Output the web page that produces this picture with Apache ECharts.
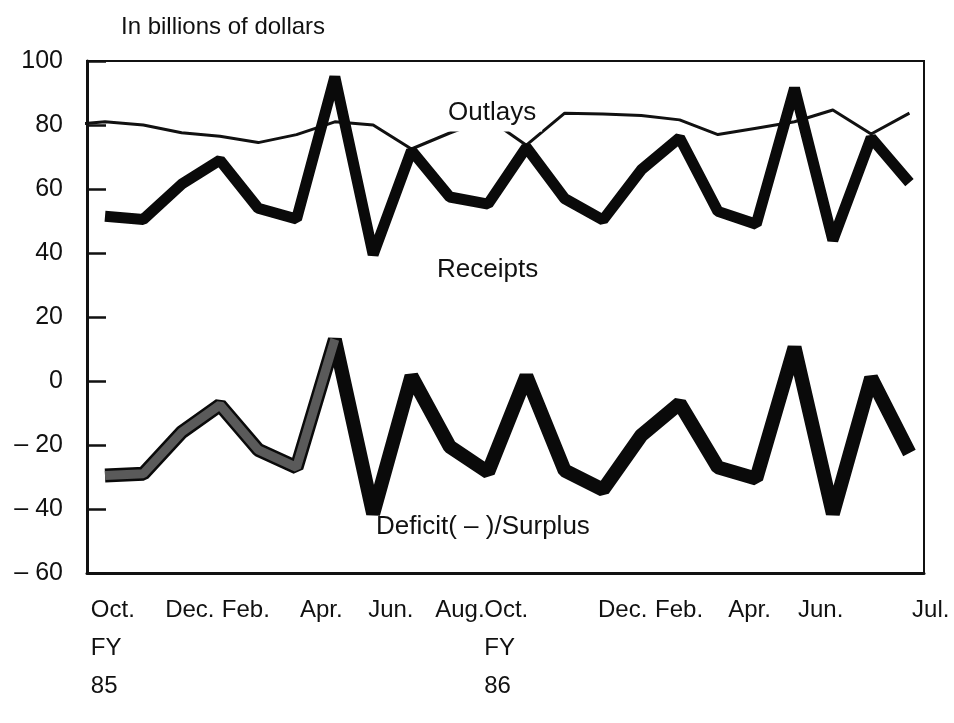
<!DOCTYPE html>
<html>
<head>
<meta charset="utf-8">
<script src="https://cdn.jsdelivr.net/npm/echarts@6/dist/echarts.min.js"></script>
<style>
  html, body { margin: 0; padding: 0; background: #ffffff; }
  #chart { width: 954px; height: 723px; }
</style>
</head>
<body>
<div id="chart"></div>
<script>
// Monthly federal budget totals, billions of dollars (Sep. 1984 – Jul. 1986)
const months = [
  'Sep. 84', 'Oct. 84', 'Nov. 84', 'Dec. 84', 'Jan. 85', 'Feb. 85', 'Mar. 85',
  'Apr. 85', 'May 85', 'Jun. 85', 'Jul. 85', 'Aug. 85', 'Sep. 85', 'Oct. 85',
  'Nov. 85', 'Dec. 85', 'Jan. 86', 'Feb. 86', 'Mar. 86', 'Apr. 86', 'May 86',
  'Jun. 86', 'Jul. 86'
];
const outlays  = [80, 81, 80, 77.6, 76.5, 74.5, 77, 81, 80, 72.5, 77.5, 82, 73.7,
                  83.7, 83.4, 83, 81.6, 77, 79, 81, 84.7, 77.2, 83.7];
const receipts = [null, 51.5, 50.5, 61.5, 69, 54, 50.6, 95, 39.5, 72, 57.5, 55.3, 73,
                  57, 50.3, 66, 76, 53, 49, 91.5, 44, 76, 62];
const deficit  = [null, -29.5, -29, -16, -7.5, -21.5, -27, 13, -41.5, 1.5, -20.5, -28.5, 1.5,
                  -28, -34, -17, -7, -27, -30.5, 10.5, -41.5, 1, -22.5];

// Category labels under the time axis
const tickLabels = ['Oct.\nFY\n85', 'Dec.', 'Feb.', 'Apr.', 'Jun.', 'Aug.', 'Oct.\nFY\n86',
                    'Dec.', 'Feb.', 'Apr.', 'Jun.', 'Jul.'];
// Where each label's left edge sits, in month-index units
const tickAnchors = [0.63, 2.57, 4.05, 6.09, 7.87, 9.62, 10.9, 13.87, 15.36, 17.27, 19.09, 22.07];

const yTicks = { min: -60, max: 100, step: 20 };
const FONT = '"Liberation Sans", Arial, Helvetica, sans-serif';

const pairs = arr => arr.map((v, i) => [i, v]);
// Early months of the balance line are printed in a lighter screen
const deficitEarly = pairs(deficit).slice(0, 8);

const chart = echarts.init(document.getElementById('chart'), null, { renderer: 'canvas' });

chart.setOption({
  animation: false,
  backgroundColor: '#ffffff',
  grid: {
    left: 87, right: 30, top: 61, bottom: 150,
    show: true, borderColor: '#111', borderWidth: 2, backgroundColor: 'transparent'
  },
  xAxis: [
    {
      type: 'value', min: 0.53, max: 22.38,
      axisLine: { show: true, onZero: false, lineStyle: { color: '#111', width: 3 } },
      axisTick: { show: false }, axisLabel: { show: false }, splitLine: { show: false }
    },
    {
      type: 'value', min: 0.53, max: 22.38, position: 'bottom',
      axisLine: { show: false }, axisTick: { show: false }, splitLine: { show: false },
      axisLabel: {
        show: true,
        customValues: tickAnchors,
        formatter: v => {
          const k = tickAnchors.findIndex(a => Math.abs(a - v) < 1e-6);
          return k >= 0 ? tickLabels[k] : '';
        },
        align: 'left', verticalAlign: 'top',
        margin: 18, lineHeight: 38,
        fontFamily: FONT, fontSize: 24, color: '#111'
      }
    }
  ],
  yAxis: {
    type: 'value', min: yTicks.min, max: yTicks.max, interval: yTicks.step,
    axisLine: { show: true, lineStyle: { color: '#111', width: 3 } },
    axisTick: { show: true, inside: true, length: 19, lineStyle: { color: '#111', width: 2.5 } },
    splitLine: { show: false },
    axisLabel: {
      margin: 24, fontFamily: FONT, fontSize: 25, color: '#111',
      formatter: v => (v < 0 ? '\u2013 ' + (-v) : String(v))
    }
  },
  series: [
    {
      name: 'Outlays', type: 'line', data: pairs(outlays), xAxisIndex: 0,
      showSymbol: false, clip: true,
      lineStyle: { color: '#111', width: 3, join: 'round' }, z: 3
    },
    {
      name: 'Receipts', type: 'line', data: pairs(receipts), xAxisIndex: 0,
      showSymbol: false, connectNulls: false,
      lineStyle: { color: '#0a0a0a', width: 11, join: 'bevel', cap: 'butt' }, z: 4
    },
    {
      name: 'Deficit(-)/Surplus', type: 'line', data: pairs(deficit), xAxisIndex: 0,
      showSymbol: false,
      lineStyle: { color: '#0a0a0a', width: 14, join: 'bevel', cap: 'butt' }, z: 4
    },
    {
      name: 'Deficit screen', type: 'line', data: deficitEarly, xAxisIndex: 0,
      showSymbol: false, silent: true,
      lineStyle: { color: '#5a5a5a', width: 9, join: 'bevel', cap: 'butt' }, z: 5
    }
  ],
  graphic: [
    {
      type: 'text', left: 121, top: 15, z: 100,
      style: { text: 'In billions of dollars', font: '24px ' + FONT, fill: '#111' }
    },
    {
      type: 'text', x: 445, y: 113, z: 100,
      style: {
        text: 'Outlays', font: '26px ' + FONT, fill: '#111',
        verticalAlign: 'middle', backgroundColor: '#ffffff', padding: [2, 6, 9, 3]
      }
    },
    {
      type: 'text', x: 437, y: 270, z: 100,
      style: { text: 'Receipts', font: '26px ' + FONT, fill: '#111', verticalAlign: 'middle' }
    },
    {
      type: 'text', x: 376, y: 527, z: 100,
      style: { text: 'Deficit( \u2013 )/Surplus', font: '26px ' + FONT, fill: '#111', verticalAlign: 'middle' }
    }
  ]
});
</script>
</body>
</html>
